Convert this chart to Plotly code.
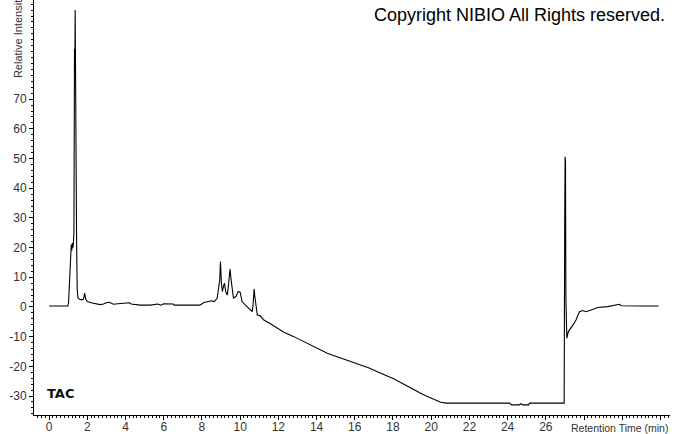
import plotly.graph_objects as go

# Retention time (min) and relative intensity
time_min = [
    0.0, 0.5, 0.98, 1.02, 1.07, 1.10, 1.13, 1.16, 1.19, 1.22, 1.26, 1.30, 1.33, 1.35, 1.365,
    1.38, 1.41, 1.44, 1.47, 1.51, 1.60, 1.70, 1.80, 1.86, 1.92, 2.00, 2.20, 2.50, 2.67, 2.85,
    3.02, 3.15, 3.37, 3.6, 3.8, 3.9, 4.2, 4.3, 4.5, 4.77, 5.3, 5.5, 5.7, 5.85, 6.0, 6.5, 6.55,
    7.0, 7.5, 7.9, 8.1, 8.3, 8.5, 8.65, 8.8, 8.93, 8.97, 9.02, 9.07, 9.13, 9.18, 9.25, 9.33,
    9.40, 9.47, 9.53, 9.60, 9.65, 9.78, 9.9, 10.0, 10.1, 10.25, 10.37, 10.5, 10.63, 10.68,
    10.73, 10.78, 10.85, 10.9, 11.06, 11.24, 11.5, 11.76, 12.29, 12.81, 13.25, 13.69, 14.1,
    14.56, 15.0, 15.43, 15.9, 16.31, 16.75, 17.18, 17.6, 18.06, 18.5, 18.93, 19.4, 19.8, 20.2,
    20.5, 20.8, 21.03, 22.0, 23.0, 24.1, 24.2, 24.6, 24.7, 24.8, 25.1, 25.15, 26.0, 26.96,
    26.99, 27.01, 27.03, 27.05, 27.07, 27.10, 27.18, 27.32, 27.45, 27.58, 27.76, 27.93, 28.1,
    28.37, 28.72, 29.24, 29.77, 29.85, 29.95, 30.47, 31.0, 31.9,
]
rel_intensity = [
    0.3, 0.3, 0.3, 1.5, 8, 10, 18, 21, 19, 21.5, 20, 25, 87, 82, 100,
    72, 70, 22, 6, 3, 2.6, 2.4, 2.6, 4.7, 2.6, 1.8, 1.4, 1.0, 0.8, 1.0,
    1.5, 1.6, 0.9, 1.1, 1.2, 1.5, 1.4, 1.0, 0.9, 0.6, 0.6, 0.9, 1.0, 0.6, 1.1, 1.0, 0.6,
    0.6, 0.6, 0.6, 1.5, 1.9, 2.1, 1.8, 3, 9, 15.3, 8, 5.2, 7, 8, 5, 4,
    8, 12.8, 9, 4, 3, 3.5, 5.2, 5.0, 1.8, 0.8, 0, -0.8, -1.6, 1,
    6, 3, -1.5, -2.7, -3.0, -4.4, -5.3, -6.4, -8.5, -10.0, -11.4, -12.8, -14.2,
    -15.6, -16.6, -17.6, -18.6, -19.5, -20.6, -21.8, -22.9, -24.3, -25.8, -27.4, -28.9, -30.2, -31.4,
    -32.1, -32.4, -32.4, -32.4, -32.4, -32.4, -33.0, -33.0, -32.6, -33.0, -33.0, -32.4, -32.4, -32.4,
    30, 50.6, 49, 3, -4, -10.5, -8.3, -7.2, -5.8, -4.4, -1.6, -1.2, -1.6,
    -1.0, -0.2, 0.1, 0.6, 0.9, 0.4, 0.3, 0.3, 0.3,
]

x_tick_vals = list(range(0, 34, 2))
x_tick_text = [str(v) if v <= 26 else "" for v in x_tick_vals]
y_tick_vals = list(range(-30, 80, 10))
y_tick_text = [str(v) for v in y_tick_vals]

FONT = "Liberation Sans, Arial, sans-serif"

fig = go.Figure()
fig.add_trace(go.Scatter(
    x=time_min, y=rel_intensity, mode="lines",
    line=dict(color="black", width=1.1),
    showlegend=False, hoverinfo="skip",
))

axis_common = dict(
    showgrid=False, zeroline=False, showline=True, linecolor="black", linewidth=1,
    ticks="outside", tickcolor="black", ticklen=4, tickwidth=1, automargin=False,
    tickfont=dict(family=FONT, size=12, color="#333333"),
)

fig.update_layout(
    width=674, height=434,
    margin=dict(l=34, r=4, t=0, b=19, autoexpand=False),
    paper_bgcolor="white", plot_bgcolor="white",
    xaxis=dict(
        range=[-0.79, 32.5], tickmode="array", tickvals=x_tick_vals, ticktext=x_tick_text,
        ticklabelstandoff=-3,
        minor=dict(dtick=0.2, tick0=0, ticks="outside", ticklen=2, tickcolor="black", showgrid=False),
        **axis_common,
    ),
    yaxis=dict(
        range=[-36.4, 103.4], tickmode="array", tickvals=y_tick_vals, ticktext=y_tick_text,
        minor=dict(dtick=2, tick0=0, ticks="outside", ticklen=2, tickcolor="black", showgrid=False),
        **axis_common,
    ),
    annotations=[
        dict(text="Retention Time (min)", xref="paper", yref="paper",
             x=1.0, y=-0.0313, xanchor="right", yanchor="middle", showarrow=False,
             font=dict(family=FONT, size=10.5, color="#333333")),
        dict(text="Relative Intensity", xref="paper", yref="paper",
             x=-0.0252, y=0.913, xanchor="center", yanchor="middle", textangle=-90,
             showarrow=False, font=dict(family=FONT, size=11, color="#333333")),
        dict(text="<b>TAC</b>", xref="paper", yref="paper",
             x=0.041, y=0.053, xanchor="center", yanchor="middle", showarrow=False,
             font=dict(family="DejaVu Sans, sans-serif", size=13, color="#111111")),
        dict(text="Copyright NIBIO All Rights reserved.", xref="paper", yref="paper",
             x=0.996, y=0.964, xanchor="right", yanchor="middle", showarrow=False,
             font=dict(family=FONT, size=18, color="black")),
    ],
)

fig.write_html(
    "out.html",
    config={"displayModeBar": False},
    post_script="document.body.style.margin='0';document.body.style.padding='0';",
)
